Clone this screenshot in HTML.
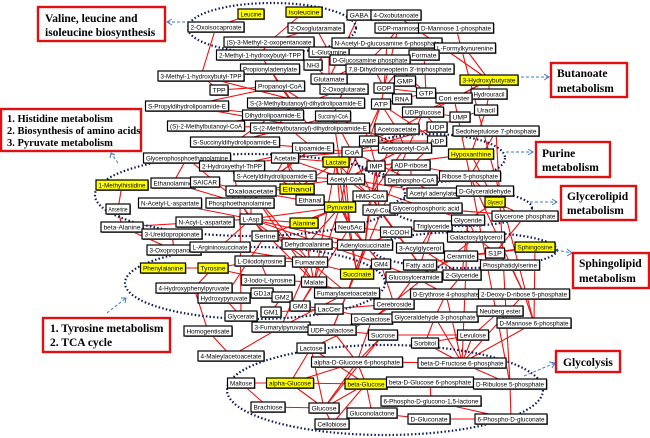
<!DOCTYPE html>
<html><head><meta charset="utf-8"><style>
html,body{margin:0;padding:0;background:#fff;width:650px;height:438px;overflow:hidden}
svg{display:block}
.n{font-family:"Liberation Sans",Arial,sans-serif;font-size:6.6px;fill:#000}
.lb{font-family:"Liberation Serif","Times New Roman",serif;font-weight:bold;fill:#000}
</style></head><body>
<svg id="s" width="650" height="438" viewBox="0 0 650 438" xmlns="http://www.w3.org/2000/svg">
<g id="edges" stroke="#f01010" stroke-width="1.1" fill="none"></g>
<g fill="none" stroke="#0a1a5a" stroke-width="2.2" stroke-dasharray="1.5,2.2">
<ellipse cx="272" cy="28" rx="84" ry="25"/>
<ellipse cx="250" cy="195" rx="155" ry="41"/>
<ellipse cx="430" cy="158" rx="75" ry="24"/>
<ellipse cx="462" cy="208" rx="70" ry="18"/>
<ellipse cx="255" cy="283" rx="130" ry="36"/>
<ellipse cx="465" cy="250" rx="92" ry="18"/>
<ellipse cx="385" cy="390" rx="158" ry="45"/>
</g>
<g stroke="#3a7bd5" stroke-width="1" stroke-dasharray="3,2" fill="none">
<line x1="190" y1="22" x2="168" y2="22"/><path d="M172 19 L167 22 L172 25" stroke-dasharray="none"/>
<line x1="516" y1="77" x2="548" y2="77"/><path d="M544 74 L549 77 L544 80" stroke-dasharray="none"/>
<line x1="506" y1="152" x2="532" y2="152"/><path d="M528 149 L533 152 L528 155" stroke-dasharray="none"/>
<line x1="530" y1="202" x2="556" y2="202"/><path d="M552 199 L557 202 L552 205" stroke-dasharray="none"/>
<line x1="556" y1="250" x2="572" y2="253"/><path d="M567 249 L572 253 L567 256" stroke-dasharray="none"/>
<line x1="524" y1="376" x2="555" y2="363"/><path d="M549 362 L555 363 L552 368" stroke-dasharray="none"/>
<line x1="118" y1="163" x2="111" y2="153"/><path d="M110 158 L111 153 L115 155" stroke-dasharray="none"/>
<line x1="107" y1="313" x2="126" y2="298"/><path d="M121 298 L126 298 L125 303" stroke-dasharray="none"/>
</g>
<g id="nodes"></g>
<g fill="#fff" stroke="#e01010" stroke-width="2.4">
<rect x="38" y="7" width="127" height="34"/>
<rect x="1" y="109" width="140" height="42"/>
<rect x="551" y="63" width="76" height="34"/>
<rect x="536" y="142" width="74" height="35"/>
<rect x="561" y="186" width="75" height="34"/>
<rect x="573" y="253" width="76" height="35"/>
<rect x="556" y="351" width="64" height="21"/>
<rect x="43" y="318" width="127" height="34"/>
</g>
<text class="lb" font-size="11.5" x="45" y="22">Valine, leucine and</text>
<text class="lb" font-size="11.5" x="45" y="36">isoleucine biosynthesis</text>
<text class="lb" font-size="10.5" x="7" y="122">1. Histidine metabolism</text>
<text class="lb" font-size="10.5" x="7" y="134">2. Biosynthesis of amino acids</text>
<text class="lb" font-size="10.5" x="7" y="146">3. Pyruvate metabolism</text>
<text class="lb" font-size="11.5" x="557" y="77">Butanoate</text>
<text class="lb" font-size="11.5" x="557" y="92">metabolism</text>
<text class="lb" font-size="11.5" x="542" y="157">Purine</text>
<text class="lb" font-size="11.5" x="542" y="171">metabolism</text>
<text class="lb" font-size="11.5" x="567" y="200">Glycerolipid</text>
<text class="lb" font-size="11.5" x="567" y="214">metabolism</text>
<text class="lb" font-size="11.5" x="579" y="267">Sphingolipid</text>
<text class="lb" font-size="11.5" x="579" y="282">metabolism</text>
<text class="lb" font-size="11.5" x="563" y="366">Glycolysis</text>
<text class="lb" font-size="11.5" x="50" y="332">1. Tyrosine  metabolism</text>
<text class="lb" font-size="11.5" x="50" y="346">2. TCA cycle</text>
</svg>
<script>
var N=[
["leu","Leucine",251,14,22,1],["ile","Isoleucine",304,12,32,1],["oic","2-Oxoisocaproate",216,27,52],
["ogm","2-Oxoglutaramate",316,28,52],["s3m","(S)-3-Methyl-2-oxopentanoate",269,42,86],["m1h","2-Methyl-1-hydroxybutyl-TPP",260,55,83],
["gln","L-Glutamine",329,52,36],["nh3","NH3",313,65,14],["pad","Propionyladenylate",270,69,55],["m3h","3-Methyl-1-hydroxybutyl-TPP",201,76,82],
["glu","Glutamate",329,79,32],["tpp","TPP",219,90,14],["pcoa","Propanoyl-CoA",280,86,45],["ogl","2-Oxoglutarate",344,89,44],
["spd","S-Propyldihydrolipoamide-E",187,106,79],["s3mb","S-(3-Methylbutanoyl)-dihydrolipoamide-E",306,103,113],["dhl","Dihydrolipoamide-E",273,115,57],
["scoa","Succinyl-CoA",333,116,31],["s2mc","(S)-2-Methylbutanoyl-CoA",206,126,73],["s2mb","S-(2-Methylbutanoyl)-dihydrolipoamide-E",310,128,115],
["ssd","S-Succinyldihydrolipoamide-E",235,142,85],["lip","Lipoamide-E",313,148,37],["gpe","Glycerophosphoethanolamine",187,158,83],
["ace","Acetate",285,158,23],["coa","CoA",352,152,16],["amp","AMP",369,141,15],["lac","Lactate",336,162,22,1],["het","2-Hydroxyethyl-ThPP",232,166,61],
["sad","S-Acetyldihydrolipoamide-E",275,176,78],["mhis","1-Methylhistidine",122,185,48,1],["eta","Ethanolamine",173,183,40],["sai","SAICAR",205,182,25],
["eth","Ethanol",297,189,30,1],["oxa","Oxaloacetate",251,191,46],["acoa","Acetyl-CoA",346,179,33],["imp","IMP",376,166,14],["hmg","HMG-CoA",370,196,30],
["etl","Ethanal",310,200,24],["naa","N-Acetyl-L-aspartate",170,203,59],["pea","Phosphoethanolamine",240,203,64],["pyr","Pyruvate",340,207,27,1],
["acyl","Acyl-CoA",379,210,28],["ans","Anserine",118,209,20],["asp","L-Asp",251,219,18],["ala","Alanine",304,223,24,1],["neu","Neu5Ac",350,227,25],
["rco","R-COOH",396,232,27],["bal","beta-Alanine",122,227,38],["nala","N-Acyl-L-aspartate",205,222,54],["urp","3-Ureidopropionate",172,234,56],
["ser","Serine",265,236,22],["oxp","3-Oxopropanoate",174,250,50],["args","L-Argininosuccinate",220,247,56],["dha","Dehydroalanine",307,244,46],
["ads","Adenylosuccinate",365,245,51],["acg","3-Acylglycerol",420,248,43],["phe","Phenylalanine",163,268,41,1],["tyr","Tyrosine",213,268,26,1],
["did","L-Diiodotyrosine",260,261,46],["fum","Fumarate",310,262,31],["gm4","GM4",381,264,15],["suc","Succinate",357,274,29,1],["fa","Fatty acid",420,265,29],
["cer","Ceramide",461,256,29],["tg","Triglyceride",433,226,34],["gly","Glyceride",468,220,29],["gnp","Glycerone phosphate",525,216,62],
["gal","Galactosylglycerol",476,237,53],["s1p","S1P",495,253,15],["sph","Sphingosine",535,247,36,1],["pser","Phosphatidylserine",510,265,55],
["gcer","Glucosylceramide",414,277,52],["g2","2-Glyceride",462,275,34],["iod","3-Iodo-L-tyrosine",268,280,49],["mal","Malate",314,282,21],
["hpp","4-Hydroxyphenylpyruvate",194,288,72],["hyp","Hydroxypyruvate",224,298,48],["gd1","GD1a",262,293,18],["gm2","GM2",282,297,16],
["gm3","GM3",300,306,16],["faa","Fumarylacetoacetate",347,293,61],["lcc","LacCer",329,309,24],["cbr","Cerebroside",394,304,36],
["e4p","D-Erythrose 4-phosphate",446,294,67],["drp","2-Deoxy-D-ribose 5-phosphate",524,294,87],["gm1","GM1",271,312,16],["gla","Glycerate",241,316,28],
["fpy","3-Fumarylpyruvate",281,327,54],["udpg","UDP-galactose",332,330,44],["dgal","D-Galactose",372,319,37],["g3p","Glyceraldehyde 3-phosphate",435,317,82],
["neub","Neuberg ester",500,311,42],["m6p","D-Mannose 6-phosphate",534,323,70],["hom","Homogentisate",208,331,44],["mla","4-Maleylacetoacetate",231,356,62],
["lcs","Lactose",311,348,24],["sucr","Sucrose",383,335,25],["sor","Sorbitol",425,343,23],["lev","Levulose",473,335,27],
["ag6","alpha-D-Glucose 6-phosphate",357,362,87],["f6p","beta-D-Fructose 6-phosphate",462,363,84],["mlt","Maltose",241,383,23],
["agl","alpha-Glucose",290,383,43,1],["bgl","beta-Glucose",366,384,38,1],["bg6","beta-D-Glucose 6-phosphate",430,382,83],
["r5p","D-Ribulose 5-phosphate",510,384,69],["bra","Brachiose",268,407,30],["glc","Glucose",324,408,26],["pgl","6-Phospho-D-glucono-1,5-lactone",431,401,96],
["gll","Gluconolactone",372,413,46],["cel","Cellobiose",332,424,30],["dgn","D-Gluconate",429,419,38],["pgn","6-Phospho-D-gluconate",511,419,68],
["gaba","GABA",359,15,20],["oxb","4-Oxobutanoate",396,15,46],["gdpm","GDP-mannose",398,28,42],["m1p","D-Mannose 1-phosphate",456,28,71],
["nag","N-Acetyl-D-glucosamine 6-phosphate",387,43,106],["lfk","L-Formylkynurenine",465,48,57],["for","Formate",424,55,26],["dgp","D-Glucosamine phosphate",370,60,76],
["dhn","7,8-Dihydroneopterin 3'-triphosphate",400,69,104],["hb","3-Hydroxybutyrate",489,80,54,1],["gmp","GMP",405,81,17],["gdp","GDP",384,88,16],
["gtp","GTP",426,93,15],["hur","Hydrouracil",489,94,32],["cori","Cori ester",454,98,32],["rna","RNA",402,99,15],["atp","ATP",381,104,15],
["udpgl","UDPglucose",423,112,37],["ura","Uracil",486,110,19],["ump","UMP",460,117,16],["udp","UDP",437,127,16],["aca","Acetoacetate",397,129,40],
["s7p","Sedoheptulose 7-phosphate",496,131,82],["adp","ADP",437,141,15],["aacoa","Acetoacetyl-CoA",405,148,49],["hyx","Hypoxanthine",471,154,41,1],
["adpr","ADP-ribose",411,165,34],["rib","Ribose 5-phosphate",470,176,57],["dpc","Dephospho-CoA",411,180,48],["aad","Acetyl adenylate",433,193,48],
["dga","D-Glyceraldehyde",485,191,53],["glyc","Glycerol",495,202,16,1],["gpa","Glycerophosphoric acid",426,208,68]
];
var E="leu-oic ile-s3m oic-m3h ogm-gln ogm-s3m s3m-m1h m1h-pad gln-nh3 gln-glu gln-dgp nag-gln pad-pcoa m3h-tpp m3h-s3mb pad-s2mb pcoa-s2mb pcoa-s3mb tpp-pcoa spd-pcoa spd-dhl spd-s2mb s2mc-s2mb s2mc-dhl dhl-ssd dhl-s3mb dhl-lip scoa-ssd scoa-ogl ogl-glu ogl-s3mb glu-nh3 glu-ogl ssd-lip ssd-scoa lip-sad lip-het het-ace het-gpe sad-ace sad-acoa sad-lip gpe-eta eta-sai sai-oxa oxa-asp oxa-pyr oxa-eth eth-etl etl-ace etl-pyr ace-acoa ace-coa lac-pyr lac-coa acoa-pyr acoa-hmg acoa-coa acoa-aacoa coa-amp coa-aacoa amp-atp amp-adp amp-imp imp-hyx imp-ads hmg-aca hmg-aacoa acyl-rco acyl-coa acyl-gpa pyr-ala pyr-neu pyr-mal pyr-ser ala-asp ala-dha asp-naa asp-nala asp-pea asp-args asp-fum asp-ads asp-mal pea-eta pea-ser pea-gpe mhis-ans ans-bal bal-urp urp-oxp bal-nala nala-asp args-fum oxp-bal phe-tyr tyr-hpp tyr-did did-iod tyr-iod hpp-hom hom-mla mla-fpy hyp-gla hyp-ser gla-pea fum-mal fum-faa fum-fpy fum-suc mal-oxa mal-faa suc-scoa suc-gm4 suc-ads faa-fpy gd1-gm2 gm2-gm3 gm2-gm1 gm3-lcc gm1-lcc lcc-dgal lcc-cbr gm4-cbr gcer-cbr gcer-cer cer-s1p cer-sph s1p-sph cer-pser cer-fa fa-rco fa-tg tg-gly gly-gpa gly-glyc glyc-gnp gnp-gpa glyc-dga dga-aad gal-gly gal-dgal acg-tg acg-g2 g2-gly rco-tg rco-fa ads-rco dgal-udpg udpg-udpgl dgal-lcs lcs-agl lcs-glc sucr-ag6 sucr-lev sucr-glc sor-lev sor-g3p g3p-e4p g3p-f6p e4p-drp e4p-f6p neub-g3p m6p-f6p m6p-m1p drp-rib lev-f6p ag6-f6p ag6-bgl ag6-agl agl-mlt agl-bgl agl-glc mlt-bra bra-glc glc-cel glc-bgl bgl-bg6 bgl-gll bg6-pgl pgl-pgn gll-dgn dgn-pgn pgn-r5p r5p-rib r5p-f6p bgl-cel gdp-gmp gdp-gtp gdp-rna gdp-atp gdp-dgp gdpm-gdp gdpm-m1p gdpm-nag gtp-gmp gtp-dhn gtp-for for-lfk lfk-hb hb-hur hur-ura ura-ump ump-udp udp-udpgl udp-adp atp-adp atp-aca atp-rna rna-gtp udpgl-cori cori-hb cori-rib udpgl-ump adp-adpr adpr-dpc dpc-coa dpc-aad aad-acoa aca-hb aca-aacoa aacoa-acoa s7p-rib s7p-r5p hyx-imp hyx-ura rib-adpr rib-dpc gaba-oxb gaba-glu oxb-hb dgp-nag dgp-glu dhn-gdp nag-gdp m1p-gdpm gpa-gnp gpa-acyl ads-gm4 neu-gm4 neu-gm3 neu-rco ads-faa dha-ser dha-pyr dha-fum hmg-lac eth-lac acoa-gpa atp-acoa coa-udp amp-aca scoa-aacoa scoa-coa ogl-scoa ace-lac lip-coa sad-etl lac-mal pyr-asp eth-ace het-pea oxa-pea oxa-acoa oxa-fum hmg-ads hmg-rco acyl-fa gm4-gcer faa-udpg lcc-gm3 cbr-dgal faa-cbr mal-gm3 fum-did iod-mal sucr-udpg udpg-ag6 dgal-ag6 lcs-bgl glc-ag6 sor-f6p f6p-drp neub-lev e4p-gcer g2-e4p drp-pser drp-m6p gly-f6p gnp-s1p pser-gal sph-m6p dga-rib glyc-hyx suc-lac gm4-asp ser-ads ala-fum ads-pyr neu-acoa imp-acyl";
var s="http://www.w3.org/2000/svg",M={};N.forEach(function(n){M[n[0]]=n});
var eg=document.getElementById("edges"),ng=document.getElementById("nodes");
E.split(" ").forEach(function(p){var a=p.split("-"),A=M[a[0]],B=M[a[1]];if(!A||!B)return;
var l=document.createElementNS(s,"line");l.setAttribute("x1",A[2]);l.setAttribute("y1",A[3]);l.setAttribute("x2",B[2]);l.setAttribute("y2",B[3]);eg.appendChild(l);});
N.forEach(function(n){var w=n[4]+4,h=10,x=n[2]-w/2,y=n[3]-h/2;
var sh=document.createElementNS(s,"rect");sh.setAttribute("x",x+1);sh.setAttribute("y",y+1);sh.setAttribute("width",w);sh.setAttribute("height",h);sh.setAttribute("fill","#777");ng.appendChild(sh);
var r=document.createElementNS(s,"rect");r.setAttribute("x",x);r.setAttribute("y",y);r.setAttribute("width",w);r.setAttribute("height",h);r.setAttribute("fill",n[5]?"#ffff00":"#fff");r.setAttribute("stroke","#000");r.setAttribute("stroke-width","1.2");ng.appendChild(r);
var t=document.createElementNS(s,"text");t.setAttribute("class","n");t.setAttribute("x",n[2]);t.setAttribute("y",n[3]+2.3);t.setAttribute("text-anchor","middle");t.setAttribute("textLength",n[4]-1);t.setAttribute("lengthAdjust","spacingAndGlyphs");t.textContent=n[1];ng.appendChild(t);});
</script>
</body></html>
